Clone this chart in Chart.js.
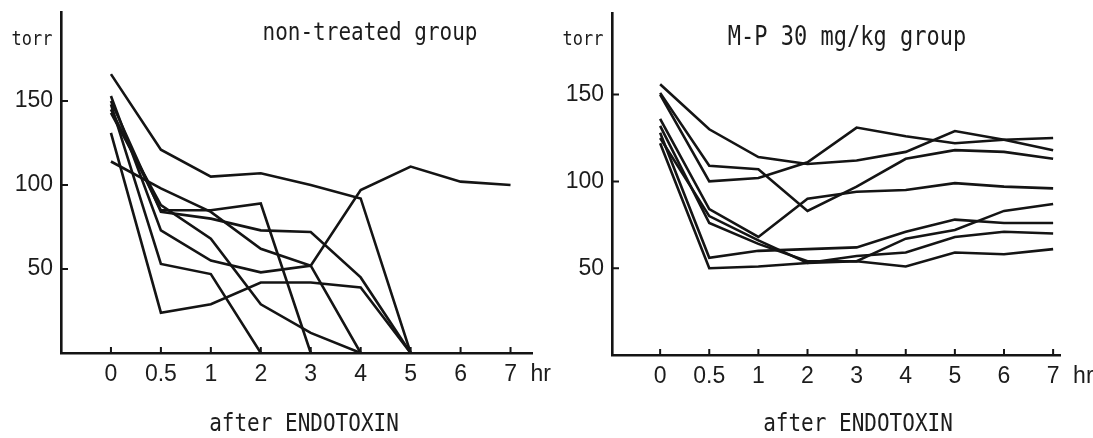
<!DOCTYPE html>
<html><head><meta charset="utf-8">
<script src="https://cdn.jsdelivr.net/npm/chart.js@4.4.1/dist/chart.umd.min.js"></script>
<style>
html,body{margin:0;padding:0;background:#fff;}
#wrap{position:relative;width:1093px;height:438px;overflow:hidden;}
canvas{position:absolute;top:0;}
</style></head><body>
<div id="wrap">
<canvas id="cL" width="570" height="438" style="left:0"></canvas>
<canvas id="cR" width="548" height="438" style="left:545px"></canvas>
</div>
<script>
// ---- data ----
const TIME_LABELS = ['0','0.5','1','2','3','4','5','6','7'];
const Y_TICKS = [50, 100, 150];

// non-treated group (torr), one array per animal, ends when value reaches 0
const NT_1 = [166, 121, 105, 107, 100, 92, 0];
const NT_2 = [114, 98, 84, 62, 52, 97, 111, 102, 100];
const NT_3 = [131, 24, 29, 42, 42, 39, 0];
const NT_4 = [148, 53, 47, 0];
const NT_5 = [145, 85, 85, 89, 0];
const NT_6 = [150, 84, 80, 73, 72, 45, 0];
const NT_7 = [153, 73, 55, 48, 52, 0];
const NT_8 = [143, 88, 68, 29, 12, 0];

// M-P 30 mg/kg group (torr)
const MP_1 = [156, 130, 114, 110, 112, 117, 129, 124, 118];
const MP_2 = [151, 109, 107, 83, 97, 113, 118, 117, 113];
const MP_3 = [150, 100, 102, 111, 131, 126, 122, 124, 125];
const MP_4 = [136, 84, 68, 90, 94, 95, 99, 97, 96];
const MP_5 = [122, 50, 51, 53, 54, 51, 59, 58, 61];
const MP_6 = [128, 56, 60, 61, 62, 71, 78, 76, 76];
const MP_7 = [132, 76, 64, 54, 54, 67, 72, 83, 87];
const MP_8 = [125, 80, 66, 53, 57, 59, 68, 71, 70];

const TITLE_LEFT = 'non-treated group';
const TITLE_RIGHT = 'M-P 30 mg/kg group';
const Y_UNIT = 'torr';
const X_UNIT = 'hr';
const X_TITLE = 'after ENDOTOXIN';

// ---- drawing ----
const INK = '#141414';
const TEXT = '#1c1c1c';
const MONO = "'DejaVu Sans Mono', 'Liberation Mono', monospace";
const SANS = "'Liberation Sans', Arial, sans-serif";

function tallText(ctx, txt, x, y, font, sy) {
  ctx.save();
  ctx.font = font;
  ctx.translate(x, y);
  ctx.scale(1, sy);
  ctx.fillText(txt, 0, 0);
  ctx.restore();
}

const decor = {
  id: 'decor',
  afterDraw(chart, args, o) {
    const {ctx, chartArea: ca, scales: {x, y}} = chart;
    ctx.save();
    ctx.strokeStyle = INK;
    ctx.lineWidth = 2;
    ctx.beginPath();
    TIME_LABELS.forEach((_, i) => {
      const px = x.getPixelForValue(i);
      ctx.moveTo(px, ca.bottom); ctx.lineTo(px, ca.bottom - 6);
    });
    Y_TICKS.forEach(v => {
      const py = y.getPixelForValue(v);
      ctx.moveTo(ca.left, py); ctx.lineTo(ca.left + 7, py);
    });
    ctx.stroke();

    ctx.fillStyle = TEXT;
    ctx.textBaseline = 'middle';
    ctx.textAlign = 'center';
    tallText(ctx, o.title, o.titleX, o.titleY, o.titleFont + 'px ' + MONO, 1.2);
    tallText(ctx, Y_UNIT, o.unitX, o.unitY, '17px ' + MONO, 1.15);
    tallText(ctx, X_TITLE, o.xtX, o.xtY, '21px ' + MONO, 1.2);
    ctx.textAlign = 'left';
    ctx.font = '23px ' + SANS;
    ctx.fillText(X_UNIT, x.getPixelForValue(TIME_LABELS.length - 1) + o.hrDx, o.hrY);
    ctx.restore();
  }
};

function makeChart(id, series, cfg) {
  return new Chart(document.getElementById(id), {
    type: 'line',
    data: {
      datasets: series.map(s => ({
        data: s.map((v, i) => ({x: i, y: v})),
        borderColor: INK,
        borderWidth: 2.6,
        pointRadius: 0,
        tension: 0,
        fill: false
      }))
    },
    options: {
      responsive: false,
      animation: false,
      devicePixelRatio: 1,
      layout: {padding: {top: cfg.top, right: cfg.right, left: 0, bottom: 0}},
      plugins: {
        legend: {display: false},
        tooltip: {enabled: false},
        decor: cfg.decor
      },
      scales: {
        x: {
          type: 'linear',
          min: cfg.xmin, max: cfg.xmax,
          afterBuildTicks: s => { s.ticks = TIME_LABELS.map((_, i) => ({value: i})); },
          afterFit: s => { s.height = cfg.xh; s.paddingLeft = 0; s.paddingRight = 0; },
          ticks: {
            autoSkip: false, maxRotation: 0,
            padding: 8,
            color: TEXT,
            font: {family: SANS, size: 23},
            callback: v => TIME_LABELS[v]
          },
          grid: {display: false, drawTicks: false},
          border: {display: true, color: INK, width: 2.6}
        },
        y: {
          type: 'linear',
          min: 0, max: cfg.ymax,
          afterBuildTicks: s => { s.ticks = Y_TICKS.map(v => ({value: v})); },
          afterFit: s => { s.width = cfg.yw; s.paddingTop = 0; s.paddingBottom = 0; },
          ticks: {
            padding: 8,
            color: TEXT,
            font: {family: SANS, size: 23},
            callback: v => String(v)
          },
          grid: {display: false, drawTicks: false},
          border: {display: true, color: INK, width: 2.6}
        }
      }
    },
    plugins: [decor]
  });
}

makeChart('cL', [NT_1, NT_2, NT_3, NT_4, NT_5, NT_6, NT_7, NT_8], {
  top: 12, right: 38, xh: 85, yw: 61,
  xmin: -1, xmax: 8.43, ymax: 203,
  decor: {title: TITLE_LEFT, titleFont: 21, titleX: 370, titleY: 33,
          unitX: 32, unitY: 40, xtX: 304, xtY: 424, hrDx: 20, hrY: 375}
});
makeChart('cR', [MP_1, MP_2, MP_3, MP_4, MP_5, MP_6, MP_7, MP_8], {
  top: 13, right: 33, xh: 83, yw: 67,
  xmin: -0.98, xmax: 8.14, ymax: 197,
  decor: {title: TITLE_RIGHT, titleFont: 22, titleX: 302, titleY: 38,
          unitX: 38, unitY: 40, xtX: 313, xtY: 424, hrDx: 20, hrY: 377}
});
</script>
</body></html>
